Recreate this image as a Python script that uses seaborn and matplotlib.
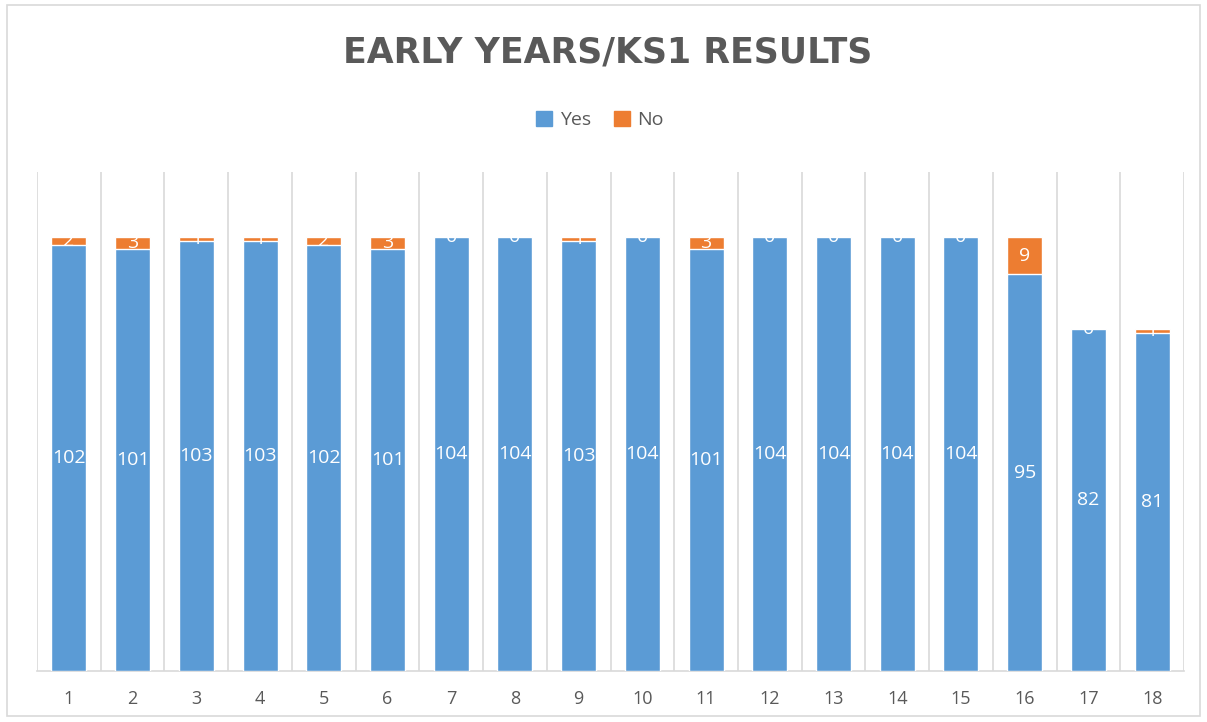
import matplotlib
matplotlib.use("Agg")
import matplotlib.pyplot as plt
import seaborn as sns
import pandas as pd
from matplotlib.patches import Rectangle

categories = [str(i) for i in range(1, 19)]
yes_values = [102, 101, 103, 103, 102, 101, 104, 104, 103, 104, 101, 104, 104, 104, 104, 95, 82, 81]
no_values = [2, 3, 1, 1, 2, 3, 0, 0, 1, 0, 3, 0, 0, 0, 0, 9, 0, 1]

sns.set_theme(style="white")
plt.rcParams['font.family'] = ['Open Sans', 'DejaVu Sans']

BLUE = "#5B9BD5"
ORANGE = "#ED7D31"
GRAY = "#595959"

df = pd.DataFrame({"cat": categories, "yes": yes_values, "no": no_values})
df["total"] = df["yes"] + df["no"]

fig = plt.figure(figsize=(12.07, 7.22), dpi=100)
ax = fig.add_axes([37/1207, 1 - 671/722, (1184-37)/1207, (671-172)/722])

sns.barplot(data=df, x="cat", y="total", color=ORANGE, width=0.55, ax=ax,
            saturation=1, zorder=2)
sns.barplot(data=df, x="cat", y="yes", color=BLUE, width=0.55, ax=ax,
            saturation=1, zorder=3)

ax.set_ylim(0, 119.5)
ax.set_xlim(-0.5, len(categories) - 0.5)
ax.set_xlabel("")
ax.set_ylabel("")
ax.set_yticks([])
for s in ["top", "right", "left"]:
    ax.spines[s].set_visible(False)
ax.spines["bottom"].set_color("#D9D9D9")
ax.spines["bottom"].set_linewidth(1.2)
for i in range(len(categories) + 1):
    ax.axvline(i - 0.5, color="#D9D9D9", linewidth=1.2, zorder=1)
ax.tick_params(axis="x", length=0, labelsize=13, labelcolor=GRAY, pad=14)

for i, (y, n) in enumerate(zip(yes_values, no_values)):
    ax.text(i, y / 2, str(y), ha="center", va="center", color="white", fontsize=14, zorder=5)
    ax.text(i, y + n / 2, str(n), ha="center", va="center", color="white", fontsize=14, zorder=5)

handles = [Rectangle((0, 0), 1, 1, color=BLUE), Rectangle((0, 0), 1, 1, color=ORANGE)]
fig.legend(handles, ["Yes", "No"], loc="center", bbox_to_anchor=(600/1207, 1 - 120/722),
           ncol=2, frameon=False, fontsize=14, labelcolor=GRAY, handlelength=0.8,
           handleheight=0.8, handletextpad=0.4, columnspacing=1.2)

fig.text(608/1207, 1 - 53/722, "EARLY YEARS/KS1 RESULTS", ha="center", va="center",
         fontsize=25, fontweight="bold", color=GRAY, family=["DejaVu Sans"])

fig.patches.append(Rectangle((7/1207, 1 - 716/722), (1200-7)/1207, (716-5)/722,
                             transform=fig.transFigure, fill=False, edgecolor="#D9D9D9",
                             linewidth=1.2))

fig.savefig("out.png", dpi=100)
